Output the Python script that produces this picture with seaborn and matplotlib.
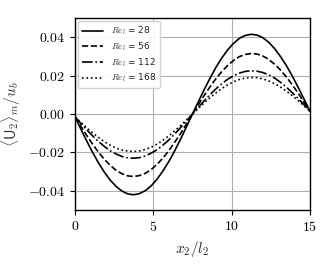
import numpy as np
import pandas as pd
import matplotlib
matplotlib.use("Agg")
import matplotlib.pyplot as plt
import seaborn as sns

x = [0.0, 0.375, 0.75, 1.125, 1.5, 1.875, 2.25, 2.625, 3.0, 3.375, 3.75,
     4.125, 4.5, 4.875, 5.25, 5.625, 6.0, 6.375, 6.75, 7.125, 7.5,
     7.875, 8.25, 8.625, 9.0, 9.375, 9.75, 10.125, 10.5, 10.875, 11.25,
     11.625, 12.0, 12.375, 12.75, 13.125, 13.5, 13.875, 14.25, 14.625, 15.0]
re28 = [-0.0015, -0.0079, -0.0141, -0.0200, -0.0254, -0.0303, -0.0344, -0.0377, -0.0401, -0.0416, -0.0420,
        -0.0414, -0.0398, -0.0373, -0.0338, -0.0295, -0.0246, -0.0190, -0.0129, -0.0065, 0.0,
        0.0064, 0.0127, 0.0187, 0.0243, 0.0292, 0.0334, 0.0368, 0.0394, 0.0409, 0.0415,
        0.0411, 0.0397, 0.0373, 0.0340, 0.0299, 0.0252, 0.0198, 0.0139, 0.0078, 0.0015]
re56 = [-0.0015, -0.0064, -0.0112, -0.0157, -0.0199, -0.0236, -0.0267, -0.0293, -0.0311, -0.0322, -0.0325,
        -0.0320, -0.0308, -0.0288, -0.0261, -0.0228, -0.0190, -0.0146, -0.0100, -0.0051, 0.0,
        0.0049, 0.0097, 0.0142, 0.0184, 0.0221, 0.0253, 0.0279, 0.0299, 0.0310, 0.0315,
        0.0312, 0.0302, 0.0284, 0.0259, 0.0229, 0.0193, 0.0152, 0.0109, 0.0062, 0.0015]
re112 = [-0.0015, -0.0049, -0.0082, -0.0114, -0.0143, -0.0169, -0.0191, -0.0208, -0.0221, -0.0228, -0.0230,
         -0.0227, -0.0218, -0.0203, -0.0185, -0.0161, -0.0134, -0.0103, -0.0070, -0.0036, 0.0,
         0.0035, 0.0069, 0.0101, 0.0131, 0.0158, 0.0181, 0.0199, 0.0213, 0.0222, 0.0225,
         0.0223, 0.0216, 0.0204, 0.0187, 0.0165, 0.0140, 0.0111, 0.0081, 0.0048, 0.0015]
re168 = [-0.0015, -0.0044, -0.0071, -0.0098, -0.0122, -0.0144, -0.0162, -0.0177, -0.0187, -0.0193, -0.0195,
         -0.0192, -0.0184, -0.0172, -0.0156, -0.0136, -0.0113, -0.0087, -0.0059, -0.0030, 0.0,
         0.0029, 0.0058, 0.0085, 0.0110, 0.0133, 0.0152, 0.0168, 0.0180, 0.0187, 0.0190,
         0.0189, 0.0183, 0.0172, 0.0158, 0.0140, 0.0119, 0.0096, 0.0070, 0.0043, 0.0015]
labels = ["28", "56", "112", "168"]
series = [re28, re56, re112, re168]
styles = ["-", "--", "-.", ":"]

sns.set_style("whitegrid")
plt.rcParams["font.family"] = ["serif"]
plt.rcParams["font.serif"] = ["cmr10", "DejaVu Serif"]
plt.rcParams["mathtext.fontset"] = "cm"
plt.rcParams["axes.formatter.use_mathtext"] = True

fig = plt.figure(figsize=(3.35, 2.68), dpi=100)
ax = fig.add_axes([0.224, 0.216, 0.701, 0.717])

for lab, ys, ls in zip(labels, series, styles):
    df = pd.DataFrame({"x": x, "y": ys})
    sns.lineplot(data=df, x="x", y="y", ax=ax, color="black", lw=1.2,
                 linestyle=ls, label=r"$Re_l$ = " + lab)

ax.set_xlim(0, 15)
ax.set_ylim(-0.05, 0.05)
ax.set_xticks([0, 5, 10, 15])
ax.set_yticks([-0.04, -0.02, 0.0, 0.02, 0.04])
ax.set_yticklabels(["$-0.04$", "$-0.02$", "$0.00$", "$0.02$", "$0.04$"])
ax.set_xticklabels(["$0$", "$5$", "$10$", "$15$"])
ax.grid(True, color="#b0b0b0", lw=0.8)
for s in ax.spines.values():
    s.set_color("black")
    s.set_linewidth(1.0)
ax.tick_params(axis="both", direction="out", length=3.5, width=0.8, colors="black",
               labelsize=10, left=True, bottom=True)
ax.set_xlabel(r"$x_2/l_2$", fontsize=11)
ax.set_ylabel(r"$\langle \mathsf{U}_2\rangle_m/u_b$", fontsize=11, color="#333333")

leg = ax.legend(loc="upper left", prop={"family": "DejaVu Sans", "size": 6.5},
                frameon=True, handlelength=2.4, handletextpad=0.8, borderpad=0.45,
                labelspacing=0.35, fancybox=True, framealpha=0.9, borderaxespad=0.3)
leg.get_frame().set_edgecolor("#cccccc")
fig.savefig("out.png", dpi=100)
